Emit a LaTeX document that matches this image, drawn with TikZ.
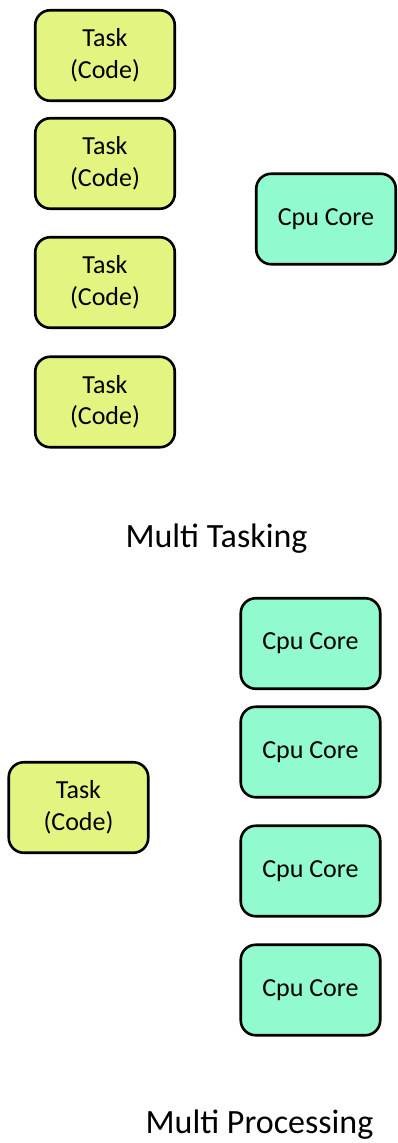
\documentclass[tikz,border=0pt]{standalone}
\usepackage{fontspec}
\setmainfont{Carlito}
\definecolor{taskfill}{RGB}{227,245,128}
\definecolor{corefill}{RGB}{145,250,206}
\tikzset{
  blockbox/.style={draw=black, line width=2.6pt, rounded corners=15pt,
    minimum width=139.5pt, minimum height=90.5pt, inner sep=0pt,
    align=center, font=\fontsize{26}{31.5}\selectfont},
  taskbox/.style={blockbox, fill=taskfill},
  corebox/.style={blockbox, fill=corefill},
  caption/.style={inner sep=0pt, anchor=base, font=\fontsize{34}{41}\selectfont}
}
\begin{document}
\begin{tikzpicture}[x=1pt, y=-1pt]
  \useasboundingbox (0,0) rectangle (397,1143);
  % multitasking: several tasks sharing one core
  \node[taskbox] (t1) at (105,55.5) {Task\\(Code)};
  \node[taskbox] (t2) at (105,163.5) {Task\\(Code)};
  \node[taskbox] (t3) at (105,282.5) {Task\\(Code)};
  \node[taskbox] (t4) at (105,402) {Task\\(Code)};
  \node[corebox] (c0) at (326,219) {Cpu Core};
  \node[caption] (mt) at (216.5,547) {Multi Tasking};
  % multiprocessing: one task spread over several cores
  \node[corebox] (c1) at (310.5,643.5) {Cpu Core};
  \node[corebox] (c2) at (310.5,752) {Cpu Core};
  \node[corebox] (c3) at (310.5,871) {Cpu Core};
  \node[corebox] (c4) at (310.5,990) {Cpu Core};
  \node[taskbox] (t0) at (78.5,807.5) {Task\\(Code)};
  \node[caption] (mp) at (259.5,1133) {Multi Processing};
\end{tikzpicture}
\end{document}
